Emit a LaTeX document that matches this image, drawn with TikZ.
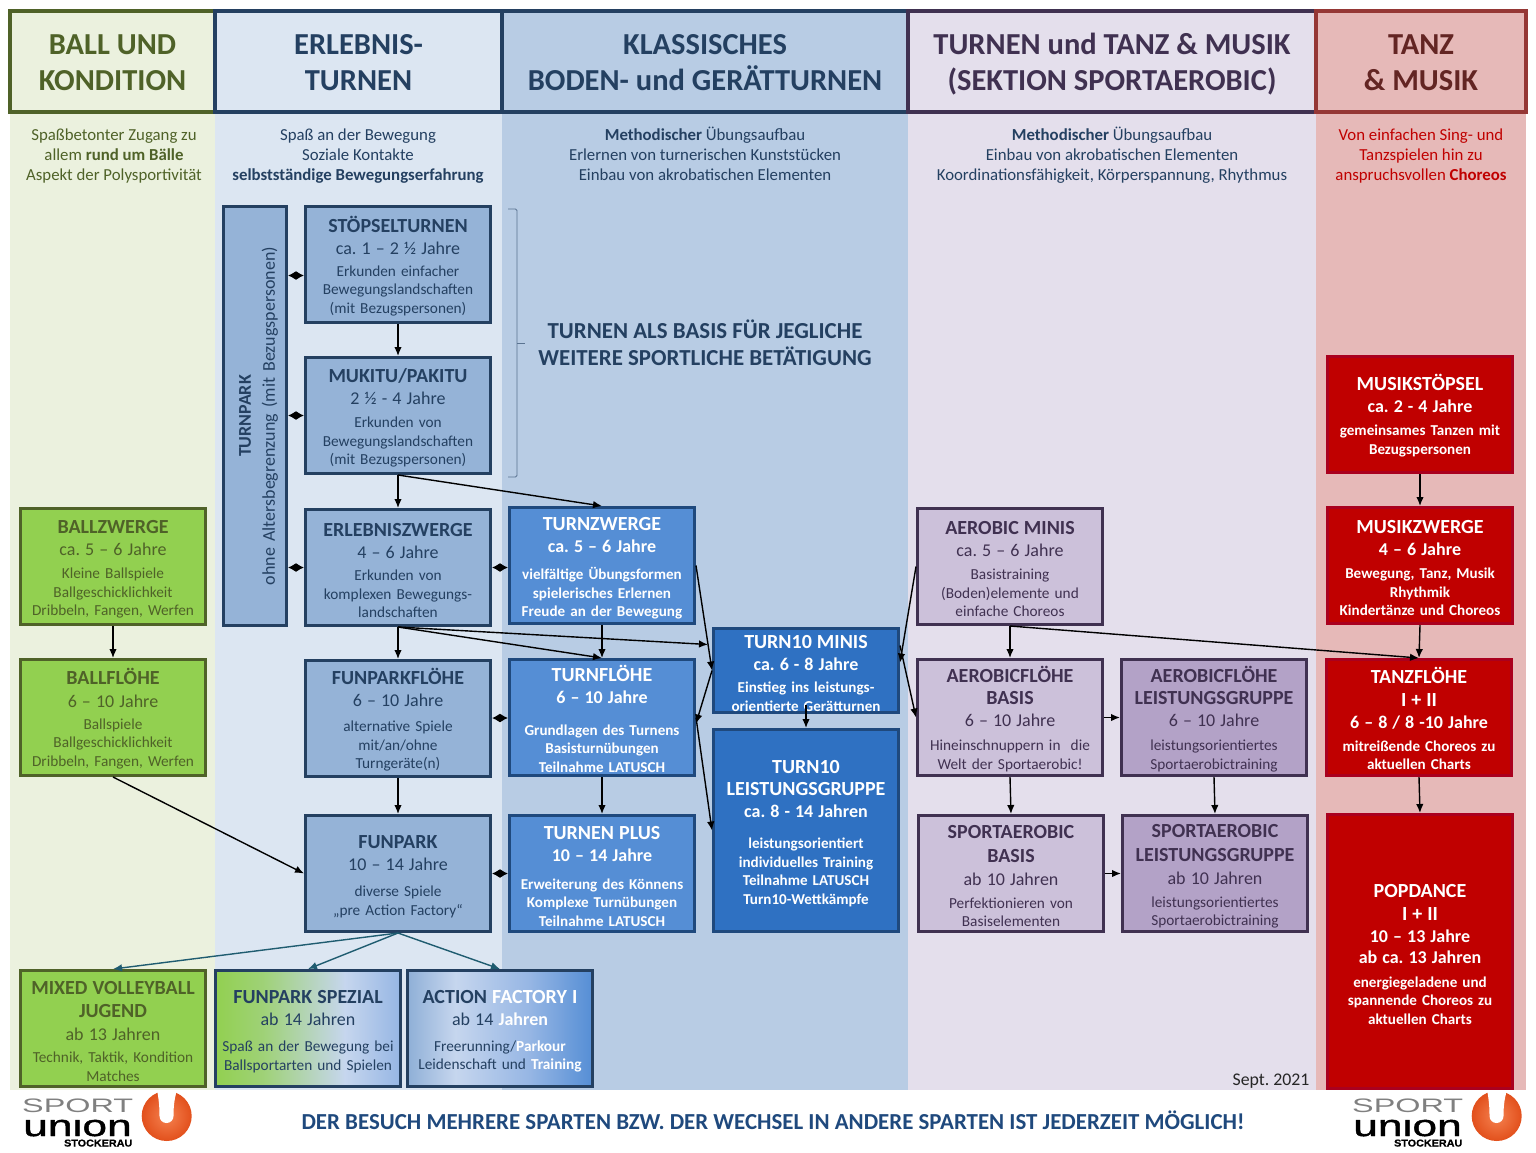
\documentclass[tikz,border=0pt]{standalone}
\usepackage{fontspec}
\setmainfont{Carlito}
\newfontfamily\logothin[FakeStretch=1.66]{Liberation Sans}
\newfontfamily\logoheavy[FakeStretch=1.48,FakeBold=1.5]{Liberation Sans}
\newfontfamily\logosmall[FakeStretch=1.08,FakeBold=0.8]{Liberation Sans}
\usepackage{xcolor}
\usepackage{tikz}
\usetikzlibrary{arrows.meta, positioning, shadings}
\definecolor{olivedark}{RGB}{79, 98, 40}
\definecolor{navydark}{RGB}{36, 64, 97}
\definecolor{plumdark}{RGB}{64, 49, 81}
\definecolor{winedark}{RGB}{149, 55, 53}
\definecolor{winetext}{RGB}{99, 37, 35}
\definecolor{panelgreen}{RGB}{235, 241, 222}
\definecolor{panelblue}{RGB}{220, 230, 242}
\definecolor{panelmid}{RGB}{184, 204, 228}
\definecolor{panellilac}{RGB}{228, 223, 236}
\definecolor{panelred}{RGB}{230, 185, 184}
\definecolor{ballgreen}{RGB}{146, 208, 80}
\definecolor{erlebblue}{RGB}{149, 179, 215}
\definecolor{turnblue}{RGB}{85, 142, 213}
\definecolor{tenblue}{RGB}{47, 113, 194}
\definecolor{turnline}{RGB}{31, 73, 125}
\definecolor{lilaclight}{RGB}{204, 193, 218}
\definecolor{lilacdark}{RGB}{179, 162, 199}
\definecolor{musikred}{RGB}{192, 0, 0}
\definecolor{musikline}{RGB}{170, 0, 30}
\definecolor{tealarrow}{RGB}{31, 92, 112}
\definecolor{footblue}{RGB}{31, 73, 125}
\definecolor{bracegray}{RGB}{90, 115, 145}
\definecolor{unionorange}{RGB}{226, 80, 28}
\definecolor{unionlight}{RGB}{245, 130, 80}
\definecolor{fadelight}{RGB}{198, 214, 238}
\definecolor{fadeblue}{RGB}{150, 182, 228}
\pgfdeclarehorizontalshading{spezialfade}{100bp}{color(0bp)=(ballgreen); color(25bp)=(ballgreen); color(38bp)=(ballgreen!75!fadelight); color(60bp)=(fadelight); color(75bp)=(fadeblue); color(100bp)=(fadeblue)}
\pgfdeclarehorizontalshading{actionfade}{100bp}{color(0bp)=(erlebblue); color(25bp)=(erlebblue!90!turnblue); color(38bp)=(fadelight); color(58bp)=(fadeblue); color(75bp)=(turnblue); color(100bp)=(turnblue)}
\newcommand{\tname}[1]{{\fontsize{20}{18.5}\selectfont\bfseries #1}}
\newcommand{\tage}[1]{{\fontsize{18}{18.5}\selectfont #1}}
\newcommand{\headtop}{\rule{0pt}{30pt}}
\newcommand{\headbot}{\rule[-8pt]{0pt}{8pt}}

\begin{document}
\frenchspacing
\begin{tikzpicture}[
    x=1pt, y=-1pt,
    node distance=33pt and 13pt,
    every node/.style={align=center},
    panel/.style={anchor=north west, minimum height=978pt, inner sep=0pt, outer sep=0pt},
    headbox/.style={anchor=north west, draw, line width=3.5pt, minimum height=101pt, inner sep=0pt, outer sep=0pt, font=\fontsize{30.5}{36}\selectfont\bfseries},
    motto/.style={anchor=north, font=\fontsize{16.8}{20}\selectfont},
    prog/.style={draw, line width=3pt, minimum width=185pt, minimum height=116pt, inner sep=0pt, text width=184pt, font=\fontsize{15.3}{18.5}\selectfont, execute at begin node=\rule{0pt}{19pt}},
    ballbox/.style={prog, draw=olivedark, fill=ballgreen, text=olivedark},
    erlebbox/.style={prog, draw=navydark, fill=erlebblue, text=navydark},
    turnbox/.style={prog, draw=turnline, fill=turnblue, text=white, font=\fontsize{15.1}{18.5}\selectfont\bfseries},
    tenbox/.style={prog, draw=turnline, fill=tenblue, text=white, font=\fontsize{15.1}{18.5}\selectfont\bfseries},
    aerolight/.style={prog, draw=plumdark, fill=lilaclight, text=plumdark},
    aerodark/.style={prog, draw=plumdark, fill=lilacdark, text=plumdark},
    musikbox/.style={prog, draw=musikline, fill=musikred, text=white, font=\fontsize{15.1}{18.5}\selectfont\bfseries},
    arr/.style={-{Latex[length=9pt, width=7.5pt]}, line width=1.4pt, color=black},
    twoway/.style={{Latex[length=8pt, width=9pt]}-{Latex[length=8pt, width=9pt]}, line width=1.4pt, color=black},
    tealarr/.style={-{Latex[length=9pt, width=7.5pt]}, line width=1.4pt, color=tealarrow}
]
\useasboundingbox (0,0) rectangle (1536,1152);

% Column panels
\node[panel, fill=panelgreen, minimum width=205pt] (panelball) at (10,112) {};
\node[panel, fill=panelblue, minimum width=287pt] (panelerleb) at (215,112) {};
\node[panel, fill=panelmid, minimum width=406pt] (panelklass) at (502,112) {};
\node[panel, fill=panellilac, minimum width=408pt] (panelaero) at (908,112) {};
\node[panel, fill=panelred, minimum width=210pt] (paneltanz) at (1316,112) {};

% Column heads
\node[headbox, draw=olivedark, fill=panelgreen, text=olivedark, minimum width=205pt] (headball) at (10,11) {\headtop BALL UND\\KONDITION\headbot};
\node[headbox, draw=navydark, fill=panelblue, text=navydark, minimum width=287pt] (headerleb) at (215,11) {\headtop ERLEBNIS-\\TURNEN\headbot};
\node[headbox, draw=navydark, fill=panelmid, text=navydark, minimum width=406pt] (headklass) at (502,11) {\headtop KLASSISCHES\\BODEN- und GERÄTTURNEN\headbot};
\node[headbox, draw=plumdark, fill=panellilac, text=plumdark, minimum width=408pt] (headaero) at (908,11) {\headtop TURNEN und TANZ \& MUSIK\\(SEKTION SPORTAEROBIC)\headbot};
\node[headbox, draw=winedark, fill=panelred, text=winetext, minimum width=210pt] (headtanz) at (1316,11) {\headtop TANZ\\\& MUSIK\headbot};

% Column mottos
\node[motto, text=olivedark] (mottoball) at (114,125) {Spaßbetonter Zugang zu\\allem \textbf{rund um Bälle}\\Aspekt der Polysportivität};
\node[motto, text=navydark] (mottoerleb) at (358,125) {Spaß an der Bewegung\\Soziale Kontakte\\\textbf{selbstständige Bewegungserfahrung}};
\node[motto, text=navydark] (mottoklass) at (705,123) {\textbf{Methodischer} Übungsaufbau\\Erlernen von turnerischen Kunststücken\\Einbau von akrobatischen Elementen};
\node[motto, text=navydark] (mottoaero) at (1112,123) {\textbf{Methodischer} Übungsaufbau\\Einbau von akrobatischen Elementen\\Koordinationsfähigkeit, Körperspannung, Rhythmus};
\node[motto, text=musikred] (mottotanz) at (1421,125) {Von einfachen Sing- und\\Tanzspielen hin zu\\anspruchsvollen \textbf{Choreos}};

% Erlebnisturnen
\node[erlebbox, minimum width=419pt, minimum height=63pt, text width=410pt, rotate=90, font=\fontsize{18}{24}\selectfont] (turnpark) at (255,416) {\textbf{TURNPARK}\\ohne Altersbegrenzung (mit Bezugspersonen)};
\node[erlebbox, anchor=north west] (stoepsel) at (304,205) {\tname{STÖPSELTURNEN}\\[3.5pt]\tage{ca. 1 – 2 ½ Jahre}\\[3.5pt]Erkunden einfacher\\Bewegungslandschaften\\(mit Bezugspersonen)};
\node[erlebbox, below=32pt of stoepsel] (mukitu) {\tname{MUKITU/PAKITU}\\[3.5pt]\tage{2 ½ - 4 Jahre}\\[4.5pt]Erkunden von\\Bewegungslandschaften\\(mit Bezugspersonen)};
\node[erlebbox, below=of mukitu] (erlebzwerge) {\tname{ERLEBNISZWERGE}\\[4pt]\tage{4 – 6 Jahre}\\[3.5pt]Erkunden von\\komplexen Bewegungs-\\landschaften};
\node[erlebbox, below=32pt of erlebzwerge] (funparkfloehe) {\tname{FUNPARKFLÖHE}\\[4pt]\tage{6 – 10 Jahre}\\[6.5pt]alternative Spiele\\mit/an/ohne\\Turngeräte(n)};
\node[erlebbox, below=36pt of funparkfloehe] (funpark) {\tname{FUNPARK}\\[3.5pt]\tage{10 – 14 Jahre}\\[7.5pt]diverse Spiele\\„pre Action Factory“};

% Klassisches Turnen
\node[turnbox, anchor=north west] (turnzwerge) at (508,506) {\tname{TURNZWERGE}\\[3.5pt]\tage{ca. 5 – 6 Jahre}\\[8.5pt]vielfältige Übungsformen\\spielerisches Erlernen\\Freude an der Bewegung};
\node[turnbox, below=of turnzwerge] (turnfloehe) {\tname{TURNFLÖHE}\\[3.5pt]\tage{6 – 10 Jahre}\\[13.5pt]Grundlagen des Turnens\\Basisturnübungen\\Teilnahme LATUSCH};
\node[turnbox, below=37pt of turnfloehe] (turnplus) {\tname{TURNEN PLUS}\\[3.5pt]\tage{10 – 14 Jahre}\\[9.5pt]Erweiterung des Könnens\\Komplexe Turnübungen\\Teilnahme LATUSCH};
\node[tenbox, anchor=north west, minimum height=84pt] (tenminis) at (712,627) {\tname{TURN10 MINIS}\\[3.5pt]\tage{ca. 6 - 8 Jahre}\\[3.5pt]Einstieg ins leistungs-\\orientierte Gerätturnen};
\node[tenbox, anchor=north west, minimum height=202pt] (tenleist) at (712,728) {\tname{TURN10}\\[3.5pt]\tname{LEISTUNGSGRUPPE}\\[4pt]\tage{ca. 8 - 14 Jahren}\\[12.5pt]leistungsorientiert\\individuelles Training\\Teilnahme LATUSCH\\Turn10-Wettkämpfe};
\node[anchor=north, font=\fontsize{22.9}{27}\selectfont\bfseries, text=navydark] (basistext) at (705,316) {TURNEN ALS BASIS FÜR JEGLICHE\\WEITERE SPORTLICHE BETÄTIGUNG};

% Sportaerobic
\node[aerolight, anchor=north west] (aerominis) at (916,507) {\tname{AEROBIC MINIS}\\[3.5pt]\tage{ca. 5 – 6 Jahre}\\[4.5pt]Basistraining\\(Boden)elemente und\\einfache Choreos};
\node[aerolight, below=32pt of aerominis] (aerobasis) {\tname{AEROBICFLÖHE}\\[4pt]\tname{BASIS}\\[3.5pt]\tage{6 – 10 Jahre}\\[5.5pt]Hineinschnuppern in~ die\\Welt der Sportaerobic!};
\node[aerodark, right=16pt of aerobasis] (aeroleist) {\tname{AEROBICFLÖHE}\\[4pt]\tname{LEISTUNGSGRUPPE}\\[3.5pt]\tage{6 – 10 Jahre}\\[5.5pt]leistungsorientiertes\\Sportaerobictraining};
\node[aerolight, anchor=north west] (sportbasis) at (917,814) {\tname{SPORTAEROBIC}\\[5pt]\tname{BASIS}\\[4.5pt]\tage{ab 10 Jahren}\\[4.5pt]Perfektionieren von\\Basiselementen};
\node[aerodark, right=16pt of sportbasis] (sportleist) {\tname{SPORTAEROBIC}\\[5pt]\tname{LEISTUNGSGRUPPE}\\[4.5pt]\tage{ab 10 Jahren}\\[4.5pt]leistungsorientiertes\\Sportaerobictraining};

% Tanz und Musik
\node[musikbox, anchor=north west] (musikstoepsel) at (1326,355) {\tname{MUSIKSTÖPSEL}\\[3.5pt]\tage{ca. 2 - 4 Jahre}\\[4.5pt]gemeinsames Tanzen mit\\Bezugspersonen};
\node[musikbox, below=32pt of musikstoepsel] (musikzwerge) {\tname{MUSIKZWERGE}\\[3.5pt]\tage{4 – 6 Jahre}\\[4.5pt]Bewegung, Tanz, Musik\\Rhythmik\\Kindertänze und Choreos};
\node[musikbox, anchor=north west] (tanzfloehe) at (1325,658) {\tname{TANZFLÖHE}\\[4pt]\tname{I + II}\\[3.5pt]\tage{6 – 8 / 8 -10 Jahre}\\[4.5pt]mitreißende Choreos zu\\aktuellen Charts};
\node[musikbox, anchor=north west, minimum height=274pt] (popdance) at (1326,813) {\tname{POPDANCE}\\[4pt]\tname{I + II}\\[3.5pt]\tage{10 – 13 Jahre}\\[3pt]\tage{ab ca. 13 Jahren}\\[5pt]energiegeladene und\\spannende Choreos zu\\aktuellen Charts};

% Ball und Kondition
\node[ballbox, anchor=north west] (ballzwerge) at (19,507) {\tname{BALLZWERGE}\\[3.5pt]\tage{ca. 5 – 6 Jahre}\\[4.5pt]Kleine Ballspiele\\Ballgeschicklichkeit\\Dribbeln, Fangen, Werfen};
\node[ballbox, below=32pt of ballzwerge] (ballfloehe) {\tname{BALLFLÖHE}\\[4pt]\tage{6 – 10 Jahre}\\[3.5pt]Ballspiele\\Ballgeschicklichkeit\\Dribbeln, Fangen, Werfen};

% Bottom row
\node[ballbox, anchor=north west] (volleyball) at (19,969) {\tname{MIXED VOLLEYBALL}\\[5pt]\tname{JUGEND}\\[4pt]\tage{ab 13 Jahren}\\[4pt]Technik, Taktik, Kondition\\Matches};
\node[erlebbox, anchor=north west, shading=spezialfade] (spezial) at (214,969) {\tname{FUNPARK SPEZIAL}\\[3.5pt]\tage{ab 14 Jahren}\\[7.5pt]Spaß an der Bewegung bei\\Ballsportarten und Spielen};
\node[erlebbox, anchor=north west, shading=actionfade] (action) at (406,969) {\tname{ACTION \textcolor{white}{FACTORY I}}\\[3.5pt]\tage{ab 14 \textcolor{white}{\textbf{Jahren}}}\\[7.5pt]Freerunning/\textcolor{white}{\textbf{Parkour}}\\Leidenschaft und \textcolor{white}{\textbf{Training}}};

% Footer
\node[anchor=east, font=\fontsize{17.8}{20}\selectfont, text=black!85] (datum) at (1313,1081) {Sept. 2021};
\node[font=\fontsize{22.9}{26}\selectfont\bfseries, text=footblue] (footer) at (773,1120) {DER BESUCH MEHRERE SPARTEN BZW. DER WECHSEL IN ANDERE SPARTEN IST JEDERZEIT MÖGLICH!};

% Logo, twice
\foreach \lx/\lname in {0/left, 1330/right} {
    \begin{scope}[xshift=\lx pt]
        \shade[inner color=unionlight, outer color=unionorange] (166.7,1116) circle (25);
        \fill[white] (157,1090) -- (177,1090) .. controls (174,1100) and (173.5,1108) .. (173.5,1116) arc (0:180:7) .. controls (159.5,1108) and (159,1100) .. (157,1090) -- cycle;
        \node[anchor=base west, inner sep=0pt, font=\logothin\fontsize{19.5}{20}\selectfont, text=black!50] (sport\lname) at (22,1112) {SPORT};
        \begin{scope}
            \clip (20,1119.5) rectangle (140,1138);
            \node[anchor=base west, inner sep=0pt, text height=16pt, text depth=0pt, font=\logoheavy\fontsize{30}{30}\selectfont] (union\lname) at (23,1136) {union};
        \end{scope}
        \node[anchor=base east, inner sep=0pt, font=\logosmall\fontsize{10}{12}\selectfont\bfseries] (stockerau\lname) at (132.5,1146.5) {STOCKERAU};
    \end{scope}
}

% Bracket beside the first two groups
\draw[bracegray, line width=0.8pt, rounded corners=1.5pt] (508,209) -- (517,209) -- (517,477) -- (508,477);
\draw[bracegray, line width=0.8pt] (517,343) -- (525,343);

% Connectors inside the columns
\draw[arr] (stoepsel) -- (mukitu);
\draw[arr] (mukitu) -- (erlebzwerge);
\draw[arr] (erlebzwerge) -- (funparkfloehe);
\draw[arr] (funparkfloehe) -- (funpark);
\draw[arr] (turnzwerge) -- (turnfloehe);
\draw[arr] (turnfloehe) -- (turnplus);
\draw[arr] (aerominis) -- (aerobasis);
\draw[arr] (aerobasis.east) -- (aeroleist.west);
\draw[arr] (aerobasis.south) -- (sportbasis.north);
\draw[arr] (aeroleist.south) -- (sportleist.north);
\draw[arr] (sportbasis) -- (sportleist);
\draw[arr] (musikstoepsel) -- (musikzwerge);
\draw[arr] (musikzwerge.south) -- (tanzfloehe.north);
\draw[arr] (tanzfloehe.south) -- (popdance.north);
\draw[arr] (ballzwerge) -- (ballfloehe);
\draw[arr] ([yshift=9pt]tenminis.south) -- (tenleist.north);

% Connectors across the columns
\draw[arr] (mukitu.south) -- (turnzwerge.north);
\draw[arr] (erlebzwerge.south) -- (turnfloehe.north);
\draw[arr] (erlebzwerge.south) -- ([xshift=-4pt, yshift=26pt]tenminis.west);
\draw[arr] (turnzwerge.east) -- (tenminis.west);
\draw[arr] (tenminis.west) -- ([yshift=-6pt]turnfloehe.east);
\draw[arr] (turnfloehe.east) -- (tenleist.west);
\draw[arr] (aerominis.west) -- ([yshift=8pt]tenminis.east);
\draw[arr] ([yshift=25pt]tenminis.east) -- (aerobasis.west);
\draw[arr] (aerominis.south) -- (tanzfloehe.north);
\draw[arr] (ballfloehe.south) -- (funpark.west);

% Two-way links
\draw[twoway] ([yshift=-11pt]stoepsel.west) -- ([yshift=-11pt]stoepsel.west -| turnpark.south);
\draw[twoway] (mukitu.west) -- (mukitu.west -| turnpark.south);
\draw[twoway] (erlebzwerge.west) -- (erlebzwerge.west -| turnpark.south);
\draw[twoway] (erlebzwerge.east) -- (erlebzwerge.east -| turnzwerge.west);
\draw[twoway] (funparkfloehe) -- (turnfloehe);
\draw[twoway] (funpark) -- (turnplus);

% Branches out of the funpark
\draw[tealarr] (funpark.south) -- (volleyball.north);
\draw[tealarr] (funpark.south) -- (spezial.north);
\draw[tealarr] (funpark.south) -- (action.north);

\end{tikzpicture}
\end{document}
